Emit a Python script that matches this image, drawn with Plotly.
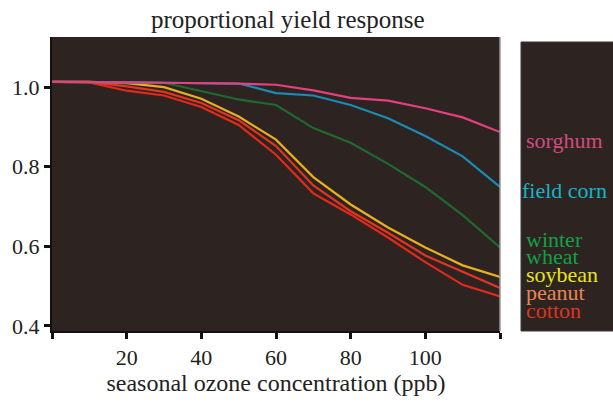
import plotly.graph_objects as go

ozone = [0, 10, 20, 30, 40, 50, 60, 70, 80, 90, 100, 110, 120]
sorghum = [1.013, 1.013, 1.012, 1.011, 1.010, 1.009, 1.006, 0.992, 0.973, 0.966, 0.947, 0.924, 0.887]
field_corn = [1.013, 1.013, 1.012, 1.011, 1.010, 1.009, 0.985, 0.979, 0.955, 0.922, 0.877, 0.826, 0.749]
winter_wheat = [1.013, 1.013, 1.012, 1.011, 0.990, 0.969, 0.955, 0.897, 0.860, 0.807, 0.749, 0.678, 0.597]
soybean = [1.013, 1.013, 1.010, 1.000, 0.971, 0.926, 0.868, 0.774, 0.705, 0.647, 0.597, 0.552, 0.523]
peanut = [1.013, 1.013, 1.002, 0.988, 0.960, 0.917, 0.852, 0.753, 0.688, 0.634, 0.577, 0.536, 0.495]
cotton = [1.013, 1.012, 0.991, 0.979, 0.950, 0.905, 0.830, 0.733, 0.680, 0.622, 0.560, 0.503, 0.474]

crop_names = ["sorghum", "field corn", "winter wheat", "soybean", "peanut", "cotton"]
series = [sorghum, field_corn, winter_wheat, soybean, peanut, cotton]
line_colors = ["#e2407e", "#1a8cb4", "#1f6a2e", "#e8b020", "#e23422", "#e22a1c"]
label_colors = ["#d24c7c", "#14b4c8", "#12a044", "#e8e414", "#ea8454", "#dc3422"]

x_ticks = [0, 20, 40, 60, 80, 100, 120]
x_ticktext = ["", "20", "40", "60", "80", "100", ""]
y_ticks = [0.4, 0.6, 0.8, 1.0]
y_ticktext = ["0.4", "0.6", "0.8", "1.0"]

BG = "#2d2421"
SERIF = "'Liberation Serif', 'Times New Roman', Times, serif"

fig = go.Figure()
for name, ys, col in reversed(list(zip(crop_names, series, line_colors))):
    fig.add_trace(go.Scatter(x=ozone, y=ys, mode="lines", name=name,
                             line=dict(color=col, width=2.2), showlegend=False))

fig.update_layout(
    width=613, height=403,
    margin=dict(l=52, r=113, t=37, b=66),
    paper_bgcolor="white",
    plot_bgcolor=BG,
    font=dict(family=SERIF, size=21, color="#222222"),
)
fig.update_xaxes(range=[0, 120], tickvals=x_ticks, ticktext=x_ticktext,
                 showgrid=False, zeroline=False, showline=True, linecolor="#111111",
                 linewidth=2, ticks="outside", ticklen=6, tickwidth=2.5, tickcolor="#111111",
                 tickfont=dict(family=SERIF, size=22, color="#222222"),
                 title=dict(text="seasonal ozone concentration (ppb)",
                            font=dict(family=SERIF, size=24, color="#222222"), standoff=4))
fig.update_yaxes(range=[0.387, 1.126], tickvals=y_ticks, ticktext=y_ticktext,
                 showgrid=False, zeroline=False, showline=True, linecolor="#111111",
                 linewidth=2, ticks="outside", ticklen=6, tickwidth=2.5, tickcolor="#111111",
                 tickfont=dict(family=SERIF, size=22, color="#222222"))

fig.add_shape(type="line", xref="paper", yref="paper", x0=1, x1=1, y0=0, y1=1,
              line=dict(color="#9a9a9a", width=1.5))

fig.add_shape(type="rect", xref="paper", yref="paper",
              x0=(521 - 52) / 448, x1=(620 - 52) / 448, y0=0, y1=0.983,
              fillcolor=BG, line=dict(color="#3a3a3a", width=1), layer="below")

label_y = [143, 194, 244, 261, 279, 298, 316]
label_text = ["sorghum", "field corn", "winter", "wheat", "soybean", "peanut", "cotton"]
label_cols = [label_colors[0], label_colors[1], label_colors[2], label_colors[2],
              label_colors[3], label_colors[4], label_colors[5]]
label_x = [524, 520, 524, 524, 524, 524, 524]
for t, py, px, c in zip(label_text, label_y, label_x, label_cols):
    fig.add_annotation(text=t, xref="paper", yref="paper",
                       x=(px - 52) / 448, y=(337 - py) / 300,
                       xanchor="left", yanchor="middle", showarrow=False,
                       font=dict(family=SERIF, size=22, color=c))

fig.add_annotation(text="proportional yield response", xref="paper", yref="paper",
                   x=(288 - 52) / 448, y=1 + (37 - 19) / 300, xanchor="center",
                   yanchor="middle", showarrow=False,
                   font=dict(family=SERIF, size=25, color="#222222"))

fig.write_html("out.html")
